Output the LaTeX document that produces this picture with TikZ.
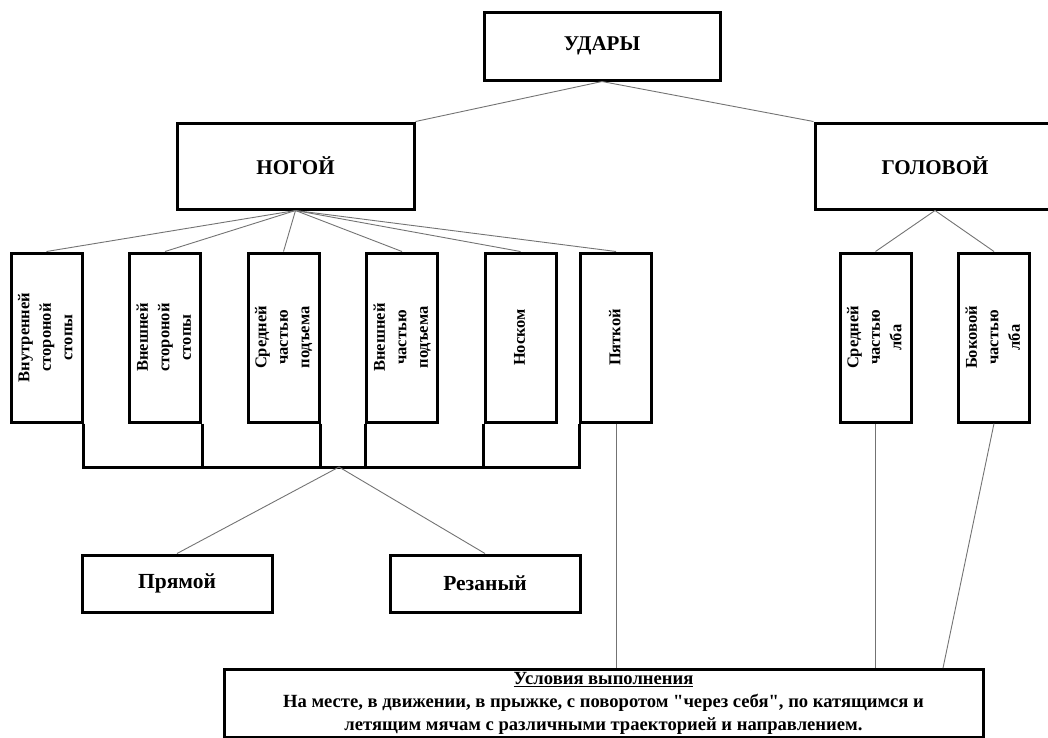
\documentclass[tikz,border=0pt]{standalone}
\usepackage{fontspec}
\setmainfont{Liberation Serif}[Ligatures=TeXOff]
\begin{document}
\begin{tikzpicture}[x=1pt,y=-1pt,
  box/.style={draw, line width=3pt, inner sep=0pt, font=\bfseries\fontsize{21}{25}\selectfont},
  vbox/.style={draw, line width=3pt, inner sep=0pt, minimum width=71pt, minimum height=169pt, font=\bfseries\fontsize{16.5}{21.5}\selectfont},
  sbox/.style={draw, line width=3pt, inner sep=0pt, minimum width=190pt, minimum height=57pt, font=\bfseries\fontsize{21.5}{25}\selectfont},
  conn/.style={draw=black!55, line width=0.9pt},
  bar/.style={draw, line width=3pt}]
\useasboundingbox (0,0) rectangle (1048,737);
\clip (0,0) rectangle (1048,737);
% top levels
\node[box, minimum width=236pt, minimum height=68pt] (udar) at (602,46) {УДАРЫ};
\node[box, minimum width=237pt, minimum height=86pt] (nog) at (295.5,166) {НОГОЙ};
\node[box, minimum width=240pt, minimum height=86pt] (gol) at (935,166) {ГОЛОВОЙ};
% vertical boxes
\newcommand{\vtext}[1]{\rotatebox{90}{\begin{tabular}{@{}c@{}}#1\end{tabular}}}
\node[vbox] (b1) at (46.5,337.5) {\vtext{Внутренней\\стороной\\стопы}};
\node[vbox] (b2) at (165,337.5) {\vtext{Внешней\\стороной\\стопы}};
\node[vbox] (b3) at (283.5,337.5) {\vtext{Средней\\частью\\подъема}};
\node[vbox] (b4) at (402,337.5) {\vtext{Внешней\\частью\\подъема}};
\node[vbox] (b5) at (520.5,337.5) {\vtext{Носком}};
\node[vbox] (b6) at (616,337.5) {\vtext{Пяткой}};
\node[vbox] (g1) at (875.5,337.5) {\vtext{Средней\\частью\\лба}};
\node[vbox] (g2) at (994,337.5) {\vtext{Боковой\\частью\\лба}};
% lower boxes
\node[sbox] (pr) at (177,583.5) {Прямой};
\node[sbox] (rez) at (485,583.5) {Резаный};
\node[draw, line width=3pt, inner sep=0pt, minimum width=759pt, minimum height=68pt, align=center,
  font=\bfseries\fontsize{18.6}{23}\selectfont] (cond) at (603.5,703)
  {\underline{Условия выполнения}\\На месте, в движении, в прыжке, с поворотом "через себя", по катящимся и\\летящим мячам с различными траекторией и направлением.};
% connectors
\draw[conn] (udar.south) -- (nog.north east);
\draw[conn] (udar.south) -- (gol.north west);
\foreach \b in {b1,b2,b3,b4,b5,b6} \draw[conn] (nog.south) -- (\b.north);
\draw[conn] (gol.south) -- (g1.north);
\draw[conn] (gol.south) -- (g2.north);
% bracket
\coordinate (barl) at (82,467);
\coordinate (mid) at (339,467);
\draw[bar] (b1.south east) -- (b1.south east |- barl) -- (b6.south west |- barl) -- (b6.south west);
\foreach \a in {b2.south east, b3.south east, b4.south west, b5.south west}
  \draw[bar] (\a) -- (\a |- barl);
\draw[conn] (mid) -- (pr.north);
\draw[conn] (mid) -- (rez.north);
\coordinate (g2end) at (943,668);
\draw[conn] (b6.south) -- (b6.south |- cond.north);
\draw[conn] (g1.south) -- (g1.south |- cond.north);
\draw[conn] (g2.south) -- (g2end);
\end{tikzpicture}
\end{document}
